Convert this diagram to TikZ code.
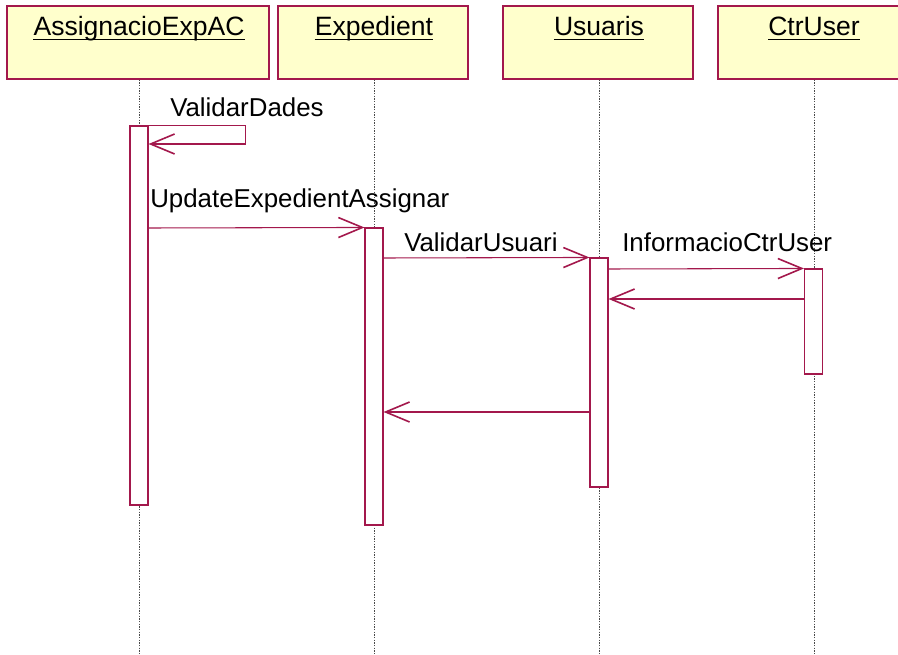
\documentclass[tikz,border=0pt]{standalone}
\usepackage{fontspec}
\setmainfont{Liberation Sans}
\usetikzlibrary{arrows.meta,positioning,calc}
\definecolor{Wine}{HTML}{A3184C}
\definecolor{Cream}{HTML}{FFFFCC}
\definecolor{LifeGray}{HTML}{4A4A4A}

\begin{document}
\begin{tikzpicture}[x=0.75pt,y=-0.75pt,font=\fontsize{19.4}{23}\selectfont,
  head/.style={draw=Wine,fill=Cream,line width=0.9pt,minimum height=54.75pt,inner sep=0pt},
  title/.style={anchor=base,inner sep=0pt,text=black},
  lbl/.style={anchor=base west,inner sep=0pt,text=black},
  act/.style={draw=Wine,fill=white,line width=0.8pt,minimum width=13.5pt,inner sep=0pt},
  msg/.style={draw=Wine,line width=0.8pt,-{Straight Barb[length=18pt,width=15pt,line width=1.2pt]}},
  life/.style={draw=LifeGray,line width=0.6pt,dash pattern=on 1pt off 1pt}]
  \path[use as bounding box,clip] (0,0) rectangle (898,655);

  % objects
  \node[head,minimum width=196.5pt] (hAssig) at (138,42.5) {};
  \node[head,minimum width=142.5pt] (hExp) at (373,42.5) {};
  \node[head,minimum width=142.5pt] (hUsu) at (598,42.5) {};
  \node[head,minimum width=144pt] (hCtr) at (814,42.5) {};
  \node[title,font=\fontsize{19.9}{23}\selectfont] (tAssig) at (139,36) {AssignacioExpAC};
  \node[title,font=\fontsize{19.9}{23}\selectfont] (tExp) at (374,36) {Expedient};
  \node[title,font=\fontsize{19.9}{23}\selectfont] (tUsu) at (599,36) {Usuaris};
  \node[title,font=\fontsize{19.9}{23}\selectfont] (tCtr) at (814,36) {CtrUser};
  \foreach \t in {tAssig,tExp,tUsu,tCtr}
    \draw[line width=1.4pt] ([yshift=-2.6pt]\t.base west) -- ([yshift=-2.6pt]\t.base east);

  % lifelines
  \draw[life] (hAssig.south -| 139,0) -- (139,655);
  \draw[life] (hExp.south -| 374,0) -- (374,655);
  \draw[life] (hUsu.south -| 599,0) -- (599,655);
  \draw[life] (hCtr.south -| 814,0) -- (814,655);

  % activations
  \node[act,minimum height=284.25pt] (bAssig) at (139,315.5) {};
  \node[act,minimum height=222.75pt] (bExp) at (374,376.5) {};
  \node[act,minimum height=171.75pt] (bUsu) at (599,372.5) {};
  \node[act,minimum height=78.75pt] (bCtr) at (813.5,321.5) {};

  % messages
  \draw[msg] (bAssig.north east) -- ++(97,0) |- (bAssig.east |- 0,144);
  \node[lbl] (lValDades) at (170,117) {ValidarDades};
  \draw[msg] (bAssig.east |- 0,228) -- (bExp.north west);
  \node[lbl] (lUpdate) at (150,208) {UpdateExpedientAssignar};
  \draw[msg] (bExp.east |- 0,258) -- (bUsu.north west);
  \node[lbl] (lValUsu) at (404,252) {ValidarUsuari};
  \draw[msg] (bUsu.east |- 0,269) -- (bCtr.north west);
  \node[lbl] (lInfo) at (622,252) {InformacioCtrUser};
  \draw[msg] (bCtr.west |- 0,299) -- (bUsu.east |- 0,299);
  \draw[msg] (bUsu.west |- 0,412) -- (bExp.east |- 0,412);
\end{tikzpicture}
\end{document}
